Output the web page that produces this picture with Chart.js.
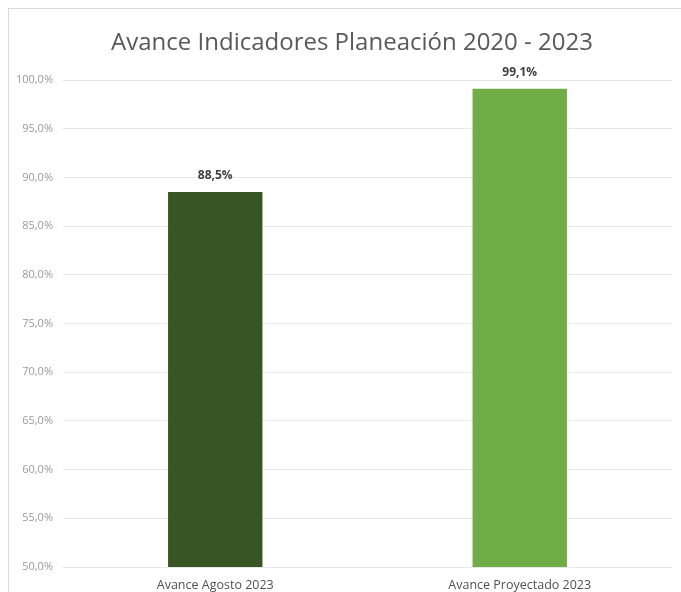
<!DOCTYPE html>
<html>
<head>
<meta charset="utf-8">
<script src="https://cdn.jsdelivr.net/npm/chart.js@4/dist/chart.umd.min.js"></script>
<style>
    html, body { margin: 0; padding: 0; background: #ffffff; }
    #wrap { position: relative; width: 681px; height: 592px; }
    #frame { position: absolute; left: 8px; top: 8px; right: -2px; bottom: -2px; border-left: 1px solid #d9d9d9; border-top: 1px solid #d9d9d9; pointer-events: none; }
    canvas { position: absolute; left: 0; top: 0; }
</style>
</head>
<body>
<div id="wrap">
    <canvas id="avanceChart" width="681" height="592"></canvas>
    <div id="frame"></div>
</div>
<script>
// Datos del gráfico
const titulo = 'Avance Indicadores Planeación 2020 - 2023';
const categorias = ['Avance Agosto 2023', 'Avance Proyectado 2023'];
const valores = [88.5, 99.1];
const coloresBarras = ['#375623', '#70ad47'];
const ejeMin = 50;
const ejeMax = 100;
const ejePaso = 5;

function formatoPct(v, dec) {
    return v.toFixed(dec).replace('.', ',') + '%';
}

// Título centrado sobre todo el marco del gráfico
const tituloMarco = {
    id: 'tituloMarco',
    afterDraw(chart) {
        const ctx = chart.ctx;
        ctx.save();
        ctx.font = '500 24px "Open Sans", sans-serif';
        ctx.fillStyle = '#595959';
        ctx.textAlign = 'center';
        ctx.textBaseline = 'middle';
        ctx.fillText(titulo, 352, 43);
        ctx.restore();
    }
};

// Etiquetas de valor encima de cada barra
const etiquetasValor = {
    id: 'etiquetasValor',
    afterDatasetsDraw(chart) {
        const ctx = chart.ctx;
        const meta = chart.getDatasetMeta(0);
        ctx.save();
        ctx.font = 'bold 12px "Open Sans", sans-serif';
        ctx.fillStyle = '#404040';
        ctx.textAlign = 'center';
        ctx.textBaseline = 'middle';
        meta.data.forEach((bar, i) => {
            ctx.fillText(formatoPct(valores[i], 1), bar.x, bar.y - 16);
        });
        ctx.restore();
    }
};

function initAvanceChart() {
    const ctx = document.getElementById('avanceChart').getContext('2d');

    new Chart(ctx, {
        type: 'bar',
        data: {
            labels: categorias,
            datasets: [{
                data: valores,
                backgroundColor: coloresBarras,
                borderWidth: 0,
                barPercentage: 0.31,
                categoryPercentage: 1
            }]
        },
        options: {
            responsive: false,
            animation: false,
            layout: {
                padding: { left: 0, right: 9, top: 80, bottom: 0 }
            },
            plugins: {
                legend: { display: false },
                tooltip: { enabled: false },
                title: { display: false }
            },
            scales: {
                y: {
                    min: ejeMin,
                    max: ejeMax,
                    afterFit: function(scale) { scale.width = 63; },
                    ticks: {
                        stepSize: ejePaso,
                        padding: 10,
                        color: '#9a9a9a',
                        font: { family: '"Open Sans", sans-serif', size: 11 },
                        callback: function(value) { return formatoPct(value, 1); }
                    },
                    grid: {
                        color: '#e8e8e8',
                        drawTicks: false
                    },
                    border: { display: false }
                },
                x: {
                    afterFit: function(scale) { scale.height = 25; },
                    ticks: {
                        padding: 11,
                        color: '#505050',
                        font: { family: '"Open Sans", sans-serif', size: 12.5 }
                    },
                    grid: { display: false, drawTicks: false },
                    border: { display: false }
                }
            }
        },
        plugins: [etiquetasValor, tituloMarco]
    });
}

document.addEventListener('DOMContentLoaded', initAvanceChart);
</script>
</body>
</html>
